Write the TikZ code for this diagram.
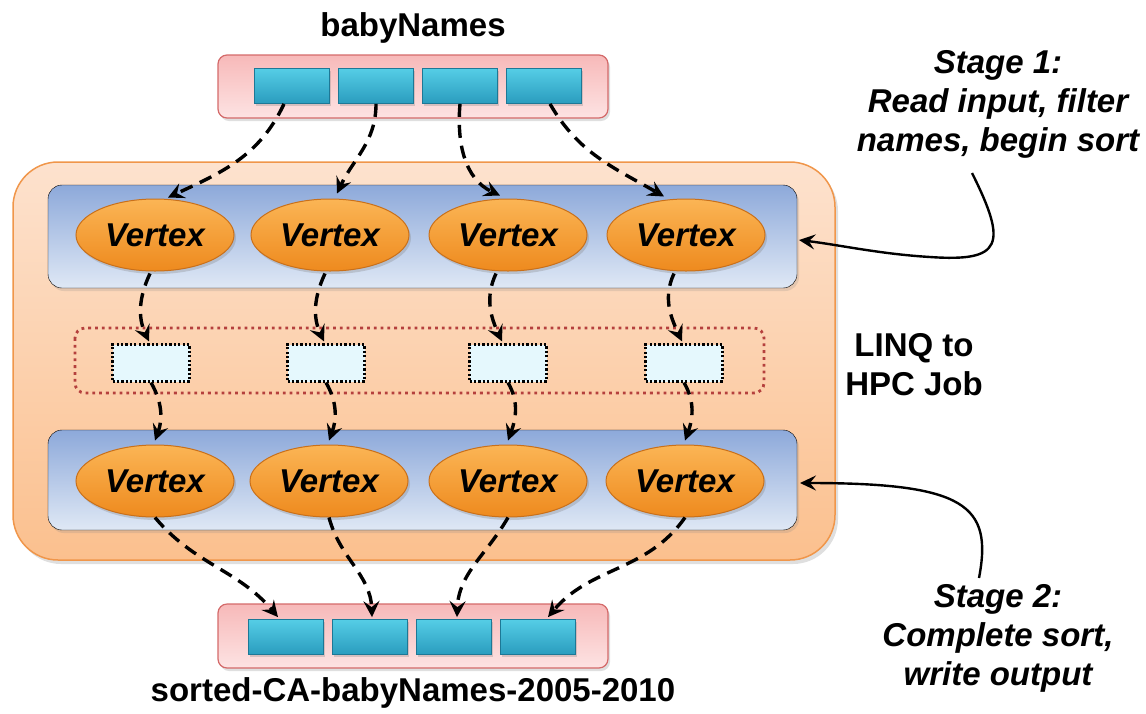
\documentclass[tikz,border=0pt]{standalone}
\usepackage{fontspec}
\setmainfont{Liberation Sans}
\usetikzlibrary{shapes.geometric,arrows.meta,shadows,calc}

\definecolor{pinkedge}{HTML}{D46A6A}
\definecolor{pinktop}{HTML}{F7B9B9}
\definecolor{pinkbot}{HTML}{FDE3E3}
\definecolor{celltop}{HTML}{55CDE6}
\definecolor{cellbot}{HTML}{2A9CBE}
\definecolor{celledge}{HTML}{1D7896}
\definecolor{jobtop}{HTML}{FDE2CE}
\definecolor{jobbot}{HTML}{FBC08E}
\definecolor{jobedge}{HTML}{F0964A}
\definecolor{rowtop}{HTML}{8DA9DA}
\definecolor{rowbot}{HTML}{DFE8F5}
\definecolor{vtxtop}{HTML}{FBB555}
\definecolor{vtxbot}{HTML}{EE8A1E}
\definecolor{vtxedge}{HTML}{C9701A}
\definecolor{bufedge}{HTML}{B5403D}
\definecolor{buffill}{HTML}{E5F8FD}

\tikzset{
  x=1pt, y=1pt,
  bigtext/.style={font=\fontsize{33}{39}\selectfont\bfseries, align=center, inner sep=0pt},
  itext/.style={font=\fontsize{33}{39}\selectfont\bfseries\itshape, align=center, inner sep=0pt},
  pinkbox/.style={draw=pinkedge, line width=1.2pt, rounded corners=9pt,
    top color=pinktop, bottom color=pinkbot,
    drop shadow={opacity=0.25, shadow xshift=2pt, shadow yshift=-3pt}},
  cell/.style={draw=celledge, line width=0.8pt, top color=celltop, bottom color=cellbot,
    minimum width=75pt, minimum height=35pt, inner sep=0pt,
    drop shadow={opacity=0.3, shadow xshift=1.5pt, shadow yshift=-2pt}},
  jobbox/.style={draw=jobedge, line width=1.5pt, rounded corners=45pt,
    top color=jobtop, bottom color=jobbot,
    drop shadow={opacity=0.25, shadow xshift=3pt, shadow yshift=-4pt}},
  rowbox/.style={rounded corners=14pt, top color=rowtop, bottom color=rowbot,
    drop shadow={opacity=0.2, shadow xshift=2pt, shadow yshift=-3pt}},
  vertex/.style={ellipse, draw=vtxedge, line width=1pt, top color=vtxtop, bottom color=vtxbot,
    minimum width=158pt, minimum height=72pt, inner sep=0pt,
    font=\fontsize{33}{39}\selectfont\bfseries\itshape,
    drop shadow={opacity=0.3, shadow xshift=2pt, shadow yshift=-3pt}},
  buffer/.style={draw=black, line width=2.2pt, dash pattern=on 2.2pt off 2.2pt, fill=buffill,
    minimum width=77pt, minimum height=37pt, inner sep=0pt},
  bufgroup/.style={draw=bufedge, line width=2.8pt, dash pattern=on 2.8pt off 4pt, rounded corners=10pt},
  flow/.style={line width=3.4pt, dash pattern=on 13pt off 8pt,
    -{Stealth[length=16pt, width=16pt, inset=6pt]}},
  callout/.style={line width=2.4pt, -{Stealth[length=16pt, width=15pt, inset=6pt]}}
}

\begin{document}
\begin{tikzpicture}
\useasboundingbox (0,0) rectangle (1146,-713);

% enclosing job
\draw[jobbox] (13,-162) rectangle (835,-560);

% input and output files
\node[bigtext] (inlabel) at (413,-28) {babyNames};
\draw[pinkbox] (218,-55) rectangle (608,-118);
\node[cell] (in1) at (292,-86) {};
\node[cell] (in2) at (376,-86) {};
\node[cell] (in3) at (460,-86) {};
\node[cell] (in4) at (544,-86) {};

\draw[pinkbox] (218,-604) rectangle (608,-668);
\node[cell] (out1) at (286,-637) {};
\node[cell] (out2) at (370,-637) {};
\node[cell] (out3) at (454,-637) {};
\node[cell] (out4) at (538,-637) {};
\node[bigtext] (outlabel) at (413,-693) {sorted-CA-babyNames-2005-2010};

% stage rows
\draw[rowbox] (48,-185) rectangle (797,-288);
\coordinate (rowA) at (799,-240);
\draw[rowbox] (48,-430) rectangle (797,-530);
\coordinate (rowB) at (800,-483);

\node[vertex] (a1) at (155,-235) {Vertex};
\node[vertex] (a2) at (330,-235) {Vertex};
\node[vertex] (a3) at (508,-235) {Vertex};
\node[vertex] (a4) at (686,-235) {Vertex};

\node[vertex] (b1) at (155,-481) {Vertex};
\node[vertex] (b2) at (329,-481) {Vertex};
\node[vertex] (b3) at (508,-481) {Vertex};
\node[vertex] (b4) at (685,-481) {Vertex};

% intermediate channels
\draw[bufgroup] (75,-328) rectangle (764,-393);
\node[buffer] (c1) at (151,-363) {};
\node[buffer] (c2) at (326,-363) {};
\node[buffer] (c3) at (508,-363) {};
\node[buffer] (c4) at (684,-363) {};

% data flow: input -> stage 1
\draw[flow] ($(in1.south)+(-8,0)$) to[out=-115, in=25] ($(a1.north)+(13,1)$);
\draw[flow] (in2.south) to[out=-90, in=65] ($(a2.north)+(7,5)$);
\draw[flow] (in3.south) to[out=-95, in=155] ($(a3.north)+(-8,3)$);
\draw[flow] ($(in4.south)+(6,0)$) to[out=-60, in=150] ($(a4.north)+(-22,2)$);

% stage 1 -> channels
\draw[flow] ($(a1.south)+(-5,-2)$) to[out=-115, in=115] ($(c1.north)+(-2,2)$);
\draw[flow] ($(a2.south)+(-5,-2)$) to[out=-115, in=115] ($(c2.north)+(-2,2)$);
\draw[flow] ($(a3.south)+(-12,-2)$) to[out=-115, in=115] ($(c3.north)+(-6,2)$);
\draw[flow] ($(a4.south)+(-12,-2)$) to[out=-115, in=115] ($(c4.north)+(-2,2)$);

% channels -> stage 2
\draw[flow] (c1.south) to[out=-60, in=70] ($(b1.north)+(0,4)$);
\draw[flow] (c2.south) to[out=-60, in=70] ($(b2.north)+(0,4)$);
\draw[flow] (c3.south) to[out=-60, in=70] ($(b3.north)+(0,4)$);
\draw[flow] (c4.south) to[out=-60, in=70] ($(b4.north)+(0,4)$);

% stage 2 -> output
\draw[flow] (b1.south) to[out=-50, in=130] ($(out1.north)+(-8,2)$);
\draw[flow] (b2.south) to[out=-75, in=92] ($(out2.north)+(2,2)$);
\draw[flow] (b3.south) to[out=-120, in=88] ($(out3.north)+(3,2)$);
\draw[flow] (b4.south) to[out=-125, in=50] ($(out4.north)+(10,2)$);

% labels
\node[bigtext] (job) at (914,-365) {LINQ to\\HPC Job};
\node[itext] (stage1) at (998,-104) {Stage 1:\\Read input, filter\\names, begin sort};
\node[itext] (stage2) at (998,-638) {Stage 2:\\Complete sort,\\write output};

% callouts
\coordinate (s1from) at (972,-173);
\coordinate (s2from) at (979,-578);
\draw[callout] (s1from) .. controls (1008,-245) and (1002,-262) .. (930,-257)
  .. controls (880,-254) and (840,-245) .. (rowA);
\draw[callout] (s2from) .. controls (993,-505) and (965,-483) .. (rowB);

\end{tikzpicture}
\end{document}
